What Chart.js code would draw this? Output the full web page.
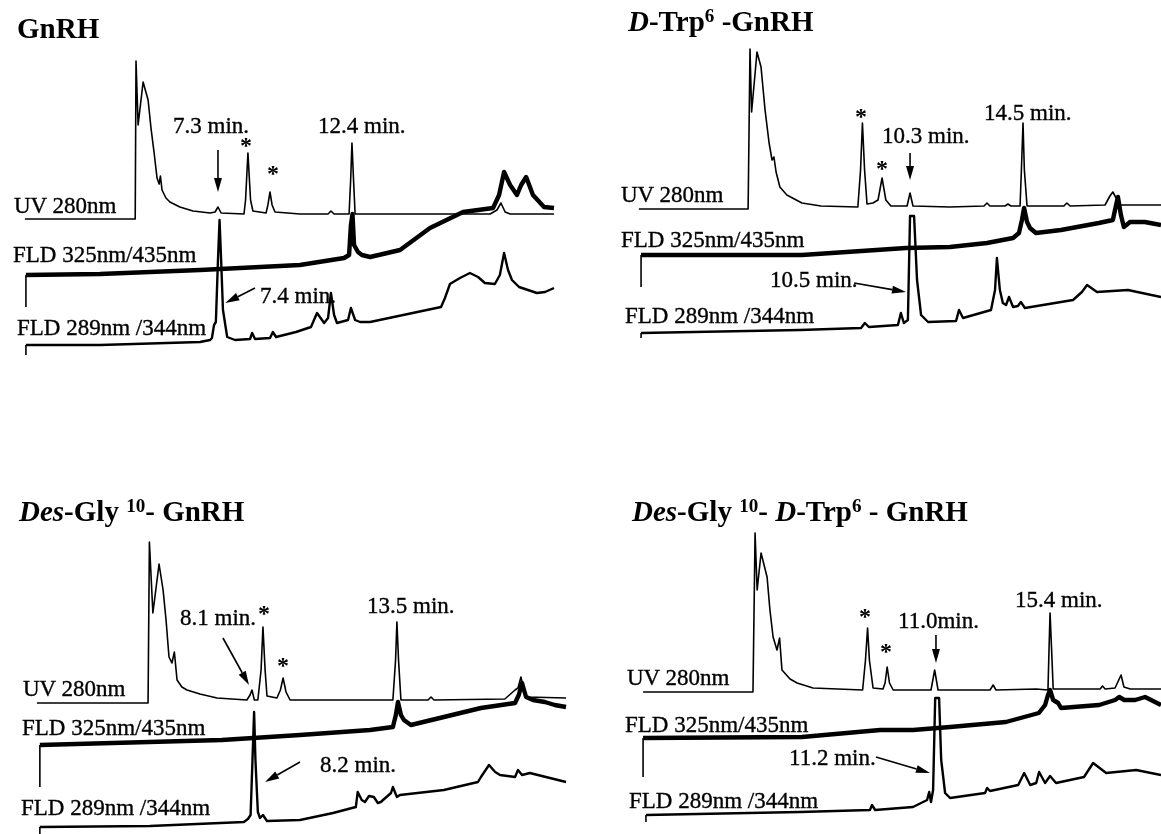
<!DOCTYPE html>
<html><head><meta charset="utf-8">
<script src="https://cdn.jsdelivr.net/npm/chart.js@4/dist/chart.umd.min.js"></script>
<style>
html,body{margin:0;padding:0;background:#fff;}
#wrap{position:relative;width:1161px;height:834px;overflow:hidden;background:#fff;}
canvas{position:absolute;}
svg{position:absolute;left:0;top:0;}
svg text{font-family:"Liberation Serif","Times New Roman",serif;fill:#000;white-space:pre;}
svg text.reg{stroke:#000;stroke-width:0.35px;}
</style></head><body>
<div id="wrap">
<canvas id="c0" width="580" height="417" style="left:0;top:0"></canvas>
<canvas id="c1" width="581" height="417" style="left:580px;top:0"></canvas>
<canvas id="c2" width="580" height="417" style="left:0;top:417px"></canvas>
<canvas id="c3" width="581" height="417" style="left:580px;top:417px"></canvas>
<svg id="labels" width="1161" height="834"></svg>
</div>
<script>
// ---------- DATA: [time (min), signal (a.u.)] ----------
// Panel 1: GnRH
const gnrhUV = [[-0.05,0],[4.15,0],[4.18,158],[4.26,94],[4.45,137],[4.64,119],[4.75,91],[4.87,66],[4.98,41],[5.06,35],[5.11,43],[5.17,29],[5.32,21],[5.47,17],[5.85,12],[6.35,8],[7.0,6],[7.19,7],[7.30,12],[7.42,6],[8.29,5],[8.35,19],[8.44,66],[8.54,19],[8.63,8],[9.13,6],[9.2,14],[9.28,27],[9.36,14],[9.47,7],[10.42,5],[11.49,5],[11.6,8],[11.72,5],[12.29,5],[12.35,39],[12.40,76],[12.46,39],[12.52,5],[17.66,5],[17.92,9],[18.07,16],[18.23,7],[18.42,5],[20.09,5]];
const gnrhFLD325 = [[-0.01,-32],[-0.01,0],[2.81,1],[6.62,5],[10.42,10],[12.1,17],[12.29,20],[12.36,50],[12.42,61],[12.48,30],[12.63,23],[12.78,20],[13.09,18],[14.23,25],[15.37,47],[16.63,63],[17.77,67],[18.0,80],[18.19,103],[18.42,90],[18.68,80],[18.84,90],[19.03,98],[19.29,80],[19.71,68],[20.09,67]];
const gnrhFLD289 = [[-0.01,-10],[-0.01,0],[2.81,0],[6.62,3],[7.0,5],[7.07,7],[7.15,20],[7.22,23],[7.3,85],[7.36,125],[7.42,85],[7.49,35],[7.65,8],[7.95,5],[8.52,6],[8.6,12],[8.71,6],[9.28,7],[9.39,13],[9.51,8],[10.27,13],[10.84,18],[11.07,32],[11.34,22],[11.49,27],[11.6,52],[11.72,30],[11.83,22],[12.25,25],[12.36,37],[12.52,25],[12.71,23],[13.09,23],[15.79,38],[15.94,47],[16.13,61],[16.51,67],[16.89,72],[17.2,68],[17.46,62],[17.84,61],[18.03,70],[18.19,92],[18.34,75],[18.49,65],[18.76,58],[19.44,52],[19.75,53],[20.09,57]];
// Panel 2: D-Trp6-GnRH
const trpUV = [[0.22,0],[4.28,0],[4.35,160],[4.41,97],[4.61,157],[4.76,142],[4.91,99],[5.06,66],[5.17,49],[5.24,52],[5.32,37],[5.46,22],[5.72,14],[6.28,6],[6.99,3],[8.36,2],[8.46,39],[8.53,86],[8.61,39],[8.7,5],[8.92,6],[9.11,9],[9.26,31],[9.4,9],[9.59,3],[10.19,3],[10.3,16],[10.41,3],[11.78,2],[13.05,3],[13.16,6],[13.27,3],[13.83,3],[13.94,5],[14.05,3],[14.39,3],[14.44,39],[14.5,86],[14.55,39],[14.65,3],[16.02,3],[16.13,6],[16.25,3],[17.55,4],[17.73,13],[17.84,17],[17.96,11],[18.1,4],[19.63,4]];
const trpFLD325 = [[0.3,-32],[0.3,0],[6.28,0],[10.15,7],[11.78,8],[13.16,12],[14.13,17],[14.35,22],[14.46,35],[14.54,47],[14.65,33],[14.76,27],[14.98,22],[15.91,25],[17.32,32],[17.84,35],[17.96,50],[18.03,58],[18.14,40],[18.25,28],[18.48,33],[19.03,33],[19.63,30]];
const trpFLD289 = [[0.3,-5],[0.3,0],[6.21,3],[8.48,5],[8.62,10],[8.77,6],[9.85,8],[9.96,20],[10.07,10],[10.22,13],[10.3,117],[10.45,117],[10.56,53],[10.71,18],[10.97,11],[12.01,12],[12.12,23],[12.27,15],[13.31,23],[13.46,43],[13.53,75],[13.64,43],[13.75,30],[13.87,28],[13.98,36],[14.13,26],[14.31,27],[14.42,31],[14.57,25],[16.36,33],[16.69,41],[16.88,48],[17.25,41],[18.4,43],[19.63,36]];
// Panel 3: Des-Gly10-GnRH
const desUV = [[0.09,0],[4.23,0],[4.28,161],[4.41,90],[4.64,139],[4.79,113],[4.9,83],[5.01,46],[5.12,40],[5.21,51],[5.31,23],[5.49,16],[5.68,13],[6.16,9],[6.8,5],[7.91,3],[8.03,8],[8.1,13],[8.19,3],[8.32,3],[8.44,33],[8.51,76],[8.59,33],[8.66,7],[9.03,5],[9.16,13],[9.26,25],[9.37,11],[9.52,3],[13.35,3],[13.45,43],[13.5,81],[13.56,43],[13.65,3],[14.66,3],[14.77,6],[14.88,3],[17.52,4],[17.9,13],[18.01,15],[18.12,26],[18.23,13],[18.34,6],[19.8,5]];
const desFLD325 = [[0.2,-42],[0.2,0],[6.98,5],[9.89,10],[12.5,15],[13.35,18],[13.46,30],[13.54,43],[13.65,30],[13.76,25],[14.02,20],[15.25,28],[16.63,37],[17.9,42],[18.04,50],[18.16,62],[18.31,48],[18.57,45],[19.01,43],[19.38,40],[19.8,38]];
const desFLD289 = [[0.2,-7],[0.2,0],[4.3,1],[7.8,5],[7.95,8],[8.05,12],[8.12,67],[8.18,115],[8.23,67],[8.32,15],[8.4,9],[8.51,12],[8.66,6],[9.89,7],[11.12,14],[11.97,20],[12.04,35],[12.19,27],[12.31,25],[12.46,31],[12.64,30],[12.79,24],[12.9,25],[13.28,34],[13.35,40],[13.5,30],[13.61,32],[15.25,37],[16.52,45],[16.63,50],[16.93,62],[17.16,55],[17.34,52],[17.9,50],[18.01,57],[18.16,52],[18.45,54],[19.8,45]];
// Panel 4: Des-Gly10-D-Trp6-GnRH
const dtUV = [[-0.17,0],[4.04,0],[4.12,159],[4.2,102],[4.35,139],[4.58,115],[4.69,82],[4.81,55],[4.96,42],[5.06,54],[5.15,22],[5.46,13],[5.73,9],[6.34,4],[8.24,2],[8.35,32],[8.43,64],[8.5,32],[8.64,4],[9.02,3],[9.1,9],[9.18,25],[9.27,9],[9.41,2],[10.86,2],[11.0,22],[11.13,2],[13.12,2],[13.24,7],[13.35,2],[14.89,3],[15.34,2],[15.38,42],[15.42,79],[15.48,42],[15.54,3],[17.34,3],[17.43,6],[17.53,3],[17.91,4],[18.14,17],[18.25,5],[18.49,3],[19.67,3]];
const dtFLD325 = [[-0.17,-39],[-0.17,0],[5.92,1],[8.91,8],[10.17,8],[11.59,11],[13.73,16],[14.99,25],[15.23,33],[15.34,43],[15.42,48],[15.54,38],[15.73,35],[15.84,30],[17.3,33],[17.91,38],[18.07,41],[18.26,38],[18.68,38],[19.06,41],[19.67,33]];
const dtFLD289 = [[-0.06,-7],[-0.06,0],[5.84,3],[8.52,5],[8.6,10],[8.72,5],[10.17,8],[10.71,15],[10.79,23],[10.86,13],[10.94,25],[11.02,117],[11.17,117],[11.25,55],[11.4,22],[11.59,17],[12.93,22],[13.01,27],[13.12,24],[14.2,30],[14.43,42],[14.66,30],[14.89,32],[15.0,43],[15.23,32],[15.42,39],[15.65,32],[16.72,38],[17.07,52],[17.57,42],[18.72,45],[19.67,40]];

// ---------- TEXT ----------
const traceLabels = ['UV 280nm','FLD 325nm/435nm','FLD 289nm /344nm'];
const panelTitles = [
  [{t:'GnRH'}],
  [{t:'D',i:1},{t:'-Trp'},{t:'6',sup:1},{t:' -GnRH'}],
  [{t:'Des',i:1},{t:'-Gly '},{t:'10',sup:1},{t:'- GnRH'}],
  [{t:'Des',i:1},{t:'-Gly '},{t:'10',sup:1},{t:'- '},{t:'D',i:1},{t:'-Trp'},{t:'6',sup:1},{t:' - GnRH'}]
];
const peakLabels = [
  ['7.3 min.','12.4 min.','7.4 min.'],
  ['10.3 min.','14.5 min.','10.5 min.'],
  ['8.1 min.','13.5 min.','8.2 min.'],
  ['11.0min.','15.4 min.','11.2 min.']
];
// arrows: [t1, v1, t2, v2] in chart units (head at t2,v2)
const peakArrows = [
  [[7.3,267,7.3,225],[8.71,129,7.58,114]],
  [[10.3,264,10.3,237],[8.22,134,10.15,125]],
  [[7.02,196,7.99,149],[9.89,72,8.59,52]],
  [[11.05,199,11.05,171],[8.75,77,10.82,61]]
];

// ---------- LAYOUT ----------
const panels = [
  {id:'c0', xmin:-0.997, xmax:21.08, off:[198,142,72], data:[gnrhUV,gnrhFLD325,gnrhFLD289],
   title:[17,38], trace:[[14,213],[13,262],[17,335]], peaks:[[173,133],[318,133],[260,303]], stars:[[246,142],[273,170]]},
  {id:'c1', xmin:-1.970, xmax:19.63, off:[208,162,84], data:[trpUV,trpFLD325,trpFLD289],
   title:[628,31], trace:[[621,202],[621,247],[625,323]], peaks:[[882,143],[984,120],[770,287]], stars:[[861,113],[882,165]]},
  {id:'c2', xmin:-1.285, xmax:20.32, off:[131,89,7], data:[desUV,desFLD325,desFLD289],
   title:[19,521], trace:[[23,696],[22,735],[21,815]], peaks:[[180,625],[367,613],[320,772]], stars:[[264,610],[283,662]]},
  {id:'c3', xmin:-2.586, xmax:19.67, off:[142,96,19], data:[dtUV,dtFLD325,dtFLD289],
   title:[632,521], trace:[[627,685],[625,732],[629,808]], peaks:[[898,628],[1015,607],[789,765]], stars:[[865,613],[886,648]]}
];
const lineWidths = [1.6, 4.4, 2.4];

const arrowPlugin = {
  id:'arrows',
  afterDatasetsDraw(chart, args, opts){
    const ctx = chart.ctx, xs = chart.scales.x, ys = chart.scales.y;
    ctx.save();
    ctx.strokeStyle = '#000'; ctx.fillStyle = '#000'; ctx.lineWidth = 1.6;
    (opts.list||[]).forEach(a=>{
      const x1 = xs.getPixelForValue(a[0]), y1 = ys.getPixelForValue(a[1]);
      const x2 = xs.getPixelForValue(a[2]), y2 = ys.getPixelForValue(a[3]);
      const ang = Math.atan2(y2-y1, x2-x1), L = 14, W = 4;
      const bx = x2 - L*Math.cos(ang), by = y2 - L*Math.sin(ang);
      ctx.beginPath(); ctx.moveTo(x1,y1); ctx.lineTo(bx,by); ctx.stroke();
      ctx.beginPath(); ctx.moveTo(x2,y2);
      ctx.lineTo(bx + W*Math.sin(ang), by - W*Math.cos(ang));
      ctx.lineTo(bx - W*Math.sin(ang), by + W*Math.cos(ang));
      ctx.closePath(); ctx.fill();
    });
    ctx.restore();
  }
};

panels.forEach((p, pi)=>{
  const canvas = document.getElementById(p.id);
  new Chart(canvas, {
    type:'line',
    data:{ datasets: p.data.map((arr, k)=>({
      label: traceLabels[k],
      data: arr.map(d=>({x:d[0], y:d[1] + p.off[k]})),
      borderColor:'#000', borderWidth: lineWidths[k], pointRadius:0, tension:0,
      borderJoinStyle:'round', borderCapStyle:'butt', fill:false, clip:false,
      segment:{ borderWidth: ctx => (k>0 && ctx.p0DataIndex===0) ? 1.6 : lineWidths[k] }
    }))},
    options:{
      responsive:false, animation:false, devicePixelRatio:1,
      layout:{padding:0},
      scales:{
        x:{type:'linear', min:p.xmin, max:p.xmax, display:false},
        y:{type:'linear', min:0, max:417, display:false}
      },
      plugins:{legend:{display:false}, tooltip:{enabled:false}, arrows:{list: peakArrows[pi]}}
    },
    plugins:[arrowPlugin]
  });
});

// ---------- SVG text ----------
const NS = 'http://www.w3.org/2000/svg';
const svg = document.getElementById('labels');
function addText(x, y, parts, size, bold, anchor){
  const t = document.createElementNS(NS,'text');
  t.setAttribute('x', x); t.setAttribute('y', y);
  t.setAttribute('font-size', size);
  if (bold) t.setAttribute('font-weight','bold'); else t.setAttribute('class','reg');
  if (anchor) t.setAttribute('text-anchor', anchor);
  let raised = false;
  parts.forEach(pt=>{
    const s = document.createElementNS(NS,'tspan');
    s.textContent = pt.t;
    if (pt.i) s.setAttribute('font-style','italic');
    if (pt.sup){
      s.setAttribute('font-size', size*0.66);
      if (!raised) s.setAttribute('dy', -size*0.32);
      raised = true;
    } else if (raised){
      s.setAttribute('dy', size*0.32); raised = false;
    }
    t.appendChild(s);
  });
  svg.appendChild(t);
}
panels.forEach((p, pi)=>{
  addText(p.title[0], p.title[1], panelTitles[pi], 29, true);
  p.trace.forEach((pos,k)=> addText(pos[0], pos[1], [{t:traceLabels[k]}], 23));
  p.peaks.forEach((pos,k)=> addText(pos[0], pos[1], [{t:peakLabels[pi][k]}], 23));
  p.stars.forEach(pos=> addText(pos[0], pos[1]+11, [{t:'*'}], 24, true, 'middle'));
});
</script>
</body></html>
